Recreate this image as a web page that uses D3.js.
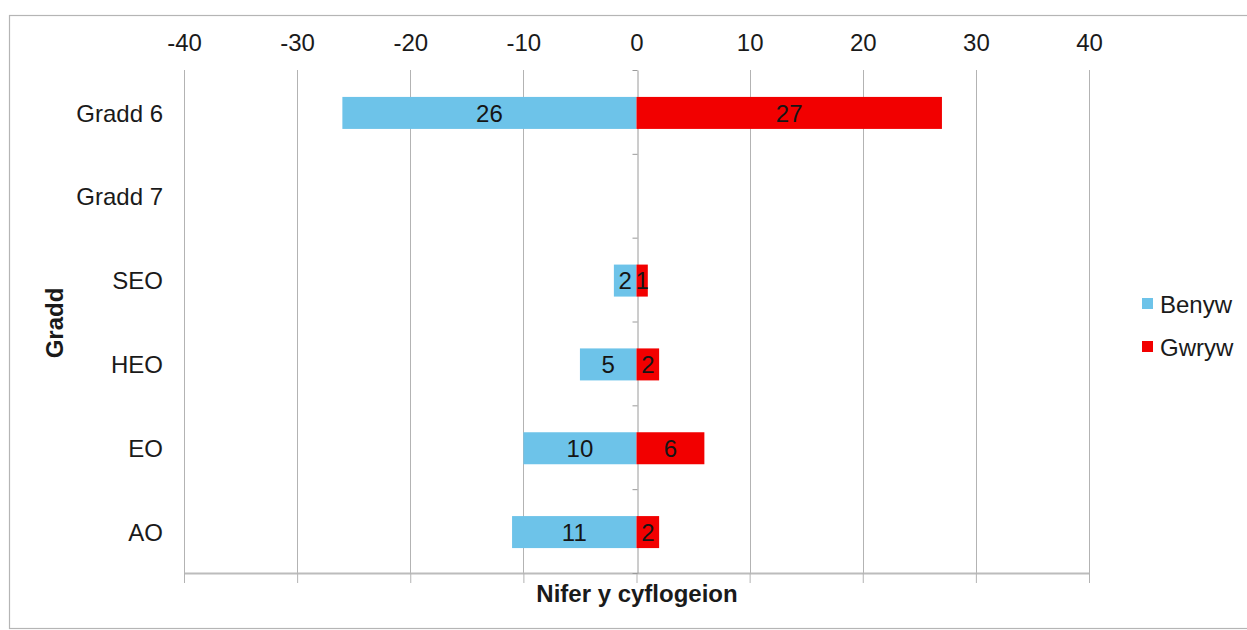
<!DOCTYPE html>
<html>
<head>
<meta charset="utf-8">
<script src="https://cdn.jsdelivr.net/npm/d3@7"></script>
<style>
  html, body { margin: 0; padding: 0; background: #fff; }
  svg { display: block; font-family: "Liberation Sans", Arial, sans-serif; }
</style>
</head>
<body>
<svg id="chart" width="1247" height="630"></svg>
<script>
const categories = ["Gradd 6", "Gradd 7", "SEO", "HEO", "EO", "AO"];
const benyw = [26, null, 2, 5, 10, 11];   // shown on the negative side
const gwryw = [27, null, 1, 2, 6, 2];
const tickValues = [-40, -30, -20, -10, 0, 10, 20, 30, 40];
const seriesNames = ["Benyw", "Gwryw"];
const colors = ["#6dc3e9", "#f20000"];

const FS = 24;
const svg = d3.select("#chart");
const W = 1247, H = 630;
const plot = { left: 184, right: 1089, top: 70, bottom: 573 };

// outer border
svg.append("rect").attr("x", 9.5).attr("y", 15.5).attr("width", W - 8).attr("height", H - 17)
  .attr("fill", "#fff").attr("stroke", "#b5b5b5").attr("stroke-width", 1.2);

const x = d3.scaleLinear().domain([-40, 40]).range([plot.left, plot.right]);
const y = d3.scaleBand().domain(categories).range([plot.top, plot.bottom]).paddingInner(0).paddingOuter(0);
const edge = d3.scaleLinear().domain([0, categories.length]).range([plot.top, plot.bottom]);

// gridlines
svg.append("g").selectAll("line").data(tickValues.filter(d => d !== 0)).join("line")
  .attr("x1", d => Math.round(x(d)) + 0.5).attr("x2", d => Math.round(x(d)) + 0.5)
  .attr("y1", plot.top).attr("y2", plot.bottom)
  .attr("stroke", "#b3b3b3").attr("stroke-width", 1);

// top tick labels
const topAxis = svg.append("g").attr("transform", `translate(0,51)`)
  .call(d3.axisTop(x).tickValues(tickValues).tickSize(0).tickPadding(0).tickFormat(d => String(d)));
topAxis.select(".domain").remove();
topAxis.selectAll("text").attr("font-size", FS).attr("fill", "#1a1a1a")
  .attr("font-family", "Liberation Sans, Arial, sans-serif").attr("dy", "0");

// bottom axis with outward ticks
const bottomAxis = svg.append("g").attr("transform", `translate(0,${plot.bottom})`)
  .call(d3.axisBottom(x).tickValues(tickValues).tickSize(10).tickSizeOuter(0).tickFormat(""));
bottomAxis.select(".domain").attr("stroke", "#bcbcbc").attr("stroke-width", 2);
bottomAxis.selectAll(".tick line").attr("stroke", "#b3b3b3");

// vertical zero axis with small left ticks at category boundaries
const zeroAxis = svg.append("g").attr("transform", `translate(${Math.round(x(0)) + 0.5},0)`)
  .call(d3.axisLeft(edge).tickValues(d3.range(0, categories.length + 1)).tickSize(5).tickSizeOuter(0).tickFormat(""));
zeroAxis.select(".domain").attr("stroke", "#9a9a9a");
zeroAxis.selectAll(".tick line").attr("stroke", "#9a9a9a");

// bars
const barH = 32;
const bars = svg.append("g");
categories.forEach((c, i) => {
  const cy = y(c) + y.bandwidth() / 2 + 1;
  if (benyw[i] != null) {
    bars.append("rect").attr("x", x(-benyw[i])).attr("y", cy - barH / 2)
      .attr("width", x(0) - x(-benyw[i])).attr("height", barH).attr("fill", colors[0]);
  }
  if (gwryw[i] != null) {
    bars.append("rect").attr("x", x(0)).attr("y", cy - barH / 2)
      .attr("width", x(gwryw[i]) - x(0)).attr("height", barH).attr("fill", colors[1]);
  }
});

// data labels
const labels = svg.append("g").attr("font-size", FS).attr("fill", "#151515").attr("text-anchor", "middle");
categories.forEach((c, i) => {
  const cy = y(c) + y.bandwidth() / 2 + 1;
  if (benyw[i] != null) {
    labels.append("text").attr("x", (x(-benyw[i]) + x(0)) / 2).attr("y", cy).attr("dy", "0.36em").text(benyw[i]);
  }
  if (gwryw[i] != null) {
    labels.append("text").attr("x", (x(gwryw[i]) + x(0)) / 2).attr("y", cy).attr("dy", "0.36em").text(gwryw[i]);
  }
});

// category labels
svg.append("g").selectAll("text").data(categories).join("text")
  .attr("x", 163).attr("y", d => y(d) + y.bandwidth() / 2 + 1).attr("dy", "0.36em")
  .attr("text-anchor", "end").attr("font-size", FS).attr("fill", "#1a1a1a").text(d => d);

// axis titles
svg.append("text").attr("transform", `translate(54,323) rotate(-90)`).attr("dy", "0.36em")
  .attr("text-anchor", "middle").attr("font-size", FS).attr("font-weight", "bold").attr("fill", "#1a1a1a").text("Gradd");
svg.append("text").attr("x", 637).attr("y", 602)
  .attr("text-anchor", "middle").attr("font-size", FS).attr("font-weight", "bold").attr("fill", "#1a1a1a").text("Nifer y cyflogeion");

// legend
const legend = svg.append("g");
seriesNames.forEach((n, i) => {
  const ly = 304 + i * 43;
  legend.append("rect").attr("x", 1142).attr("y", ly - 6).attr("width", 11).attr("height", 11).attr("fill", colors[i]);
  legend.append("text").attr("x", 1160).attr("y", ly).attr("dy", "0.36em")
    .attr("font-size", FS).attr("fill", "#1a1a1a").text(n);
});
</script>
</body>
</html>
